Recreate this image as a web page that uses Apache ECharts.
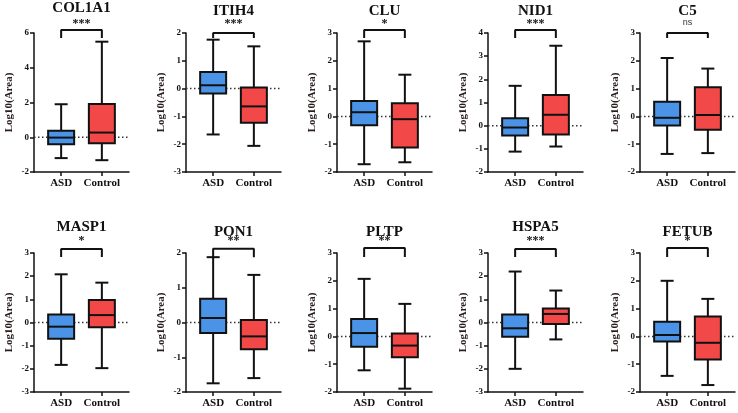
<!DOCTYPE html>
<html>
<head>
<meta charset="utf-8">
<title>Boxplots</title>
<script src="https://cdn.jsdelivr.net/npm/echarts@6/dist/echarts.min.js"></script>
<style>
    html, body { margin: 0; padding: 0; background: #fff; }
    #main { width: 738px; height: 413px; }
</style>
</head>
<body>
<div id="main"></div>
<script>
// 数据
var genes = ['COL1A1', 'ITIH4', 'CLU', 'NID1', 'C5', 'MASP1', 'PON1', 'PLTP', 'HSPA5', 'FETUB'];
var signif = ['***', '***', '*', '***', 'ns', '*', '**', '**', '***', '*'];
var groups = ['ASD', 'Control'];
// [min, Q1, median, Q3, max]
var asdBox = [
    [-1.2, -0.4, -0.02, 0.38, 1.9],
    [-1.65, -0.18, 0.12, 0.6, 1.76],
    [-1.72, -0.32, 0.15, 0.55, 2.7],
    [-1.12, -0.42, -0.08, 0.32, 1.72],
    [-1.35, -0.33, -0.05, 0.53, 2.1],
    [-1.83, -0.7, -0.18, 0.35, 2.08],
    [-1.75, -0.3, 0.13, 0.68, 1.88],
    [-1.22, -0.37, 0.12, 0.63, 2.07],
    [-2.0, -0.62, -0.25, 0.35, 2.2],
    [-1.42, -0.18, 0.05, 0.53, 2.0]
];
var controlBox = [
    [-1.32, -0.34, 0.27, 1.92, 5.5],
    [-2.06, -1.23, -0.64, 0.04, 1.52],
    [-1.65, -1.12, -0.1, 0.47, 1.5],
    [-0.9, -0.38, 0.47, 1.32, 3.45],
    [-1.32, -0.48, 0.05, 1.05, 1.72],
    [-1.97, -0.2, 0.32, 0.97, 1.72],
    [-1.6, -0.77, -0.4, 0.07, 1.37],
    [-1.88, -0.75, -0.33, 0.1, 1.17],
    [-0.73, -0.07, 0.37, 0.6, 1.38],
    [-1.75, -0.83, -0.23, 0.72, 1.35]
];
// y轴范围
var yMin = [-2, -3, -2, -2, -2, -3, -2, -2, -3, -2];
var yMax = [6, 2, 3, 4, 3, 3, 2, 3, 3, 3];
var yStep = [2, 1, 1, 1, 1, 1, 1, 1, 1, 1];
// 显著性括号
var bracketTop = [6.17, 2.0, 3.11, 4.13, 3.0, 3.17, 2.12, 3.18, 3.17, 3.18];
var bracketEnd = [5.71, 1.82, 2.82, 3.78, 2.82, 2.83, 1.88, 2.86, 2.83, 2.86];

var myChart = echarts.init(document.getElementById('main'));

// x轴分8格，ASD在第2格，Control在第5格
var slotCats = ['', ' ', groups[0], '  ', '   ', groups[1], '    ', '     '];
var slotIdx = [2, 5];
function isGroupSlot(index) { return index === 2 || index === 5; }

var colLeft = [34, 186, 337, 488, 640];
var rowTop = [33, 253];
var nameTop = [1, 4, 4, 4, 4, 220, 225, 225, 220, 225];
var colors = ['#4a93e6', '#f24848'];
var serif = 'Liberation Serif';

function renderBox(params, api) {
    var x = api.value(0);
    var lo = api.coord([x, api.value(1)]);
    var q1 = api.coord([x, api.value(2)]);
    var md = api.coord([x, api.value(3)]);
    var q3 = api.coord([x, api.value(4)]);
    var hi = api.coord([x, api.value(5)]);
    var cx = md[0], w = 26, cap = 13;
    var ls = {stroke: '#111', lineWidth: 2};
    return {
        type: 'group',
        children: [
            {type: 'line', shape: {x1: cx, y1: hi[1], x2: cx, y2: q3[1]}, style: ls},
            {type: 'line', shape: {x1: cx, y1: q1[1], x2: cx, y2: lo[1]}, style: ls},
            {type: 'line', shape: {x1: cx - cap / 2, y1: hi[1], x2: cx + cap / 2, y2: hi[1]}, style: ls},
            {type: 'line', shape: {x1: cx - cap / 2, y1: lo[1], x2: cx + cap / 2, y2: lo[1]}, style: ls},
            {type: 'rect', shape: {x: cx - w / 2, y: q3[1], width: w, height: q1[1] - q3[1]},
                style: {fill: colors[params.dataIndex], stroke: '#111', lineWidth: 2}},
            {type: 'line', shape: {x1: cx - w / 2, y1: md[1], x2: cx + w / 2, y2: md[1]}, style: ls}
        ]
    };
}

var grids = [], xAxes = [], yAxes = [], series = [], titles = [];

for (var i = 0; i < genes.length; i++) {
    var col = i % 5, row = Math.floor(i / 5);
    var gLeft = colLeft[col], gTop = rowTop[row];
    grids.push({left: gLeft, top: gTop, width: 95, height: 139});

    xAxes.push({
        gridIndex: i,
        type: 'category',
        data: slotCats,
        boundaryGap: false,
        splitLine: {show: false},
        axisLine: {onZero: false, lineStyle: {color: '#111', width: 1.5}},
        axisTick: {interval: isGroupSlot, length: 4, lineStyle: {color: '#111', width: 1.5}},
        axisLabel: {
            interval: isGroupSlot,
            color: '#111', fontFamily: serif, fontWeight: 'bold', fontSize: 11, margin: 6
        }
    });

    yAxes.push({
        gridIndex: i,
        type: 'value',
        min: yMin[i],
        max: yMax[i],
        interval: yStep[i],
        name: 'Log10(Area)',
        nameLocation: 'middle',
        nameGap: 19,
        nameTextStyle: {color: '#2a1e1e', fontFamily: serif, fontWeight: 'bold', fontSize: 11},
        splitLine: {show: false},
        axisLine: {show: true, lineStyle: {color: '#111', width: 1.5}},
        axisTick: {show: true, length: 4, lineStyle: {color: '#111', width: 1.5}},
        axisLabel: {color: '#111', fontFamily: serif, fontWeight: 'bold', fontSize: 9, margin: 5}
    });

    // 零线
    series.push({
        type: 'line',
        xAxisIndex: i,
        yAxisIndex: i,
        silent: true,
        symbol: 'none',
        z: 1,
        lineStyle: {color: '#333', type: [1.5, 2.5], width: 1.5},
        data: [[0, 0], [slotCats.length - 1, 0]]
    });

    series.push({
        type: 'custom',
        xAxisIndex: i,
        yAxisIndex: i,
        silent: true,
        z: 3,
        renderItem: renderBox,
        encode: {x: 0, y: [1, 2, 3, 4, 5]},
        data: [
            [slotIdx[0]].concat(asdBox[i]),
            [slotIdx[1]].concat(controlBox[i])
        ]
    });

    series.push({
        type: 'line',
        xAxisIndex: i,
        yAxisIndex: i,
        clip: false,
        silent: true,
        symbol: 'none',
        z: 4,
        lineStyle: {color: '#111', width: 2},
        data: [[slotIdx[0], bracketEnd[i]], [slotIdx[0], bracketTop[i]],
               [slotIdx[1], bracketTop[i]], [slotIdx[1], bracketEnd[i]]]
    });

    var cx = gLeft + 47.5;
    titles.push({
        text: genes[i],
        left: cx,
        top: nameTop[i],
        textAlign: 'center',
        padding: 0,
        textStyle: {color: '#111', fontFamily: serif, fontWeight: 'bold', fontSize: 15}
    });
    var isNs = signif[i] === 'ns';
    titles.push({
        text: signif[i],
        left: cx,
        top: isNs ? (row ? 234 : 18) : (row ? 235 : 18),
        textAlign: 'center',
        padding: 0,
        textStyle: isNs
            ? {color: '#333', fontFamily: 'Liberation Sans', fontWeight: 'normal', fontSize: 9}
            : {color: '#111', fontFamily: serif, fontWeight: 'bold', fontSize: 12}
    });
}

var option = {
    backgroundColor: '#fff',
    animation: false,
    title: titles,
    grid: grids,
    xAxis: xAxes,
    yAxis: yAxes,
    series: series
};

myChart.setOption(option);
</script>
</body>
</html>
